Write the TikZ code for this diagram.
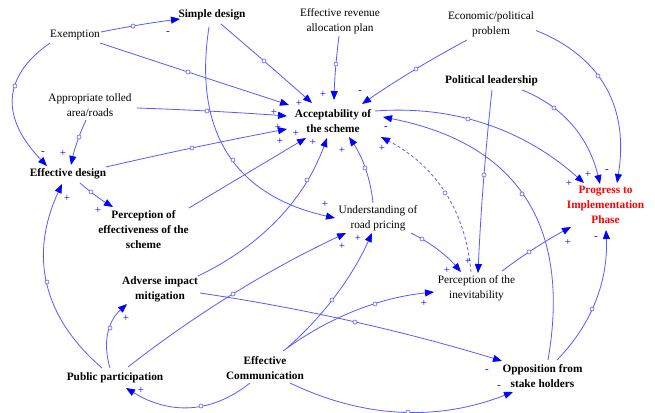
\documentclass[tikz,border=0pt]{standalone}
\usepackage{fontspec}
\setmainfont{Liberation Serif}
\usetikzlibrary{arrows.meta,calc}

\definecolor{linkblue}{RGB}{90,90,255}
\definecolor{tipblue}{RGB}{0,0,255}
\definecolor{progred}{RGB}{255,0,0}

\tikzset{
  lbl/.style={align=center, inner sep=0pt, font=\fontsize{11.3}{15}\selectfont},
  lblb/.style={lbl, font=\fontsize{11.3}{15}\selectfont\bfseries},
  link/.style={draw=linkblue, line width=0.8pt,
    -{Triangle[length=9pt,width=7pt,color=tipblue]}},
  handle/.style={draw=linkblue, fill=white, line width=0.6pt},
  sgn/.style={text=tipblue, inner sep=0pt, font=\fontsize{11}{11}\selectfont},
  delayed/.style={dash pattern=on 3pt off 2.5pt},
}

% Causal link: start = node #2 shifted by #3, end = node #5 shifted by #6,
% the curve passes through the handle point #4 (quadratic arc through 3 points).
\newcommand\cldlink[6][]{%
  \path ($(#2)+#3$) coordinate (cS) #4 coordinate (cH) ($(#5)+#6$) coordinate (cE);
  \draw[link,#1] let \p1=(cS), \p2=(cH), \p3=(cE),
      \n1={veclen(\x2-\x1,\y2-\y1)}, \n2={veclen(\x3-\x2,\y3-\y2)},
      \n3={\n1/(\n1+\n2)}, \n4={2*\n3*(1-\n3)},
      \n5={(\x2-(1-\n3)*(1-\n3)*\x1-\n3*\n3*\x3)/\n4},
      \n6={(\y2-(1-\n3)*(1-\n3)*\y1-\n3*\n3*\y3)/\n4}
    in (cS) .. controls ({(\x1+2*\n5)/3},{(\y1+2*\n6)/3})
             and ({(\x3+2*\n5)/3},{(\y3+2*\n6)/3}) .. (cE);
  \draw[handle] (cH) circle[radius=2pt];
}

\begin{document}
\begin{tikzpicture}[x=1pt,y=-1pt]
\path[fill=white, use as bounding box] (0,0) rectangle (655,412);

% variables
\node[lbl]  (exem) at (75,35)      {Exemption};
\node[lblb] (simp) at (212,15)     {Simple design};
\node[lbl]  (rev)  at (340,21.5)   {Effective revenue\\allocation plan};
\node[lbl]  (econ) at (491,24.5)   {Economic/political\\problem};
\node[lblb] (pol)  at (491.5,81)   {Political leadership};
\node[lbl]  (appr) at (90,105.5)   {Appropriate tolled\\area/roads};
\node[lblb] (acc)  at (333,121)    {Acceptability of\\the scheme};
\node[lblb] (effd) at (68,174)     {Effective design};
\node[lblb] (peff) at (143.5,230)  {Perception of\\effectiveness of the\\scheme};
\node[lblb, text=progred] (prog) at (605.5,205) {Progress to\\Implementation\\Phase};
\node[lbl]  (und)  at (378,218.5)  {Understanding of\\road pricing};
\node[lbl]  (inev) at (476.5,288)  {Perception of the\\inevitability};
\node[lblb] (adv)  at (160,289)    {Adverse impact\\mitigation};
\node[lblb] (pub)  at (115,378)    {Public participation};
\node[lblb] (comm) at (265,368)    {Effective\\Communication};
\node[lblb] (opp)  at (542.5,376.5){Opposition from\\stake holders};

% causal links
\cldlink{exem}{(26,-3)}{(133,26)}{simp}{(-32,4)}
\cldlink{exem}{(25,8)}{(188,72)}{acc}{(-44,-16)}
\cldlink{simp}{(9,9)}{(264,61)}{acc}{(-21,-18)}
\cldlink{rev}{(-1,14.5)}{(336,64)}{acc}{(1,-21)}
\cldlink{econ}{(-24,15.5)}{(416,69)}{acc}{(29,-17)}
\cldlink{appr}{(47,2.5)}{(207,111)}{acc}{(-46,-5)}
\cldlink{effd}{(38,-7)}{(192,148)}{acc}{(-46,8)}
\draw[link] ($(peff)+(45.5,-22)$) -- ($(acc)+(-27,17)$);
\cldlink{adv}{(38,-13)}{(307,180)}{acc}{(-6,17)}
\cldlink{und}{(-5,-15.5)}{(365,168)}{acc}{(16,16)}
\cldlink[delayed]{inev}{(-5.5,-16)}{(445,193)}{acc}{(48,16)}
\cldlink{opp}{(5.5,-16.5)}{(522,194)}{acc}{(50,-4)}
\cldlink{acc}{(42,-10)}{(468,119)}{prog}{(-21.5,-22)}
\cldlink{pol}{(30.5,9)}{(554,108)}{prog}{(-5.5,-21)}
\cldlink{econ}{(45,6)}{(598,76)}{prog}{(11.5,-22)}
\cldlink{pol}{(0.5,9)}{(484,175)}{inev}{(1.5,-15)}
\cldlink{und}{(33,14.5)}{(422,239)}{inev}{(-15.5,-16)}
\cldlink{inev}{(25.5,-17)}{(529,252)}{prog}{(-34.5,22)}
\cldlink{comm}{(18,-17)}{(375,304)}{inev}{(-42.5,4)}
\cldlink{comm}{(22,-20)}{(332,300)}{und}{(-6,14.5)}
\cldlink{pub}{(13,-11)}{(233,294)}{und}{(-32,14.5)}
\cldlink{adv}{(40,4)}{(355,322)}{opp}{(-40.5,-15.5)}
\cldlink{comm}{(25,15)}{(408,412)}{opp}{(-29.5,15.5)}
\cldlink{comm}{(-15,15)}{(201,406)}{pub}{(11,10)}
\cldlink{pub}{(-5,-10)}{(110,328)}{adv}{(-33,15)}
\cldlink{pub}{(-13,-10)}{(47,282)}{effd}{(-6,10)}
\cldlink{exem}{(-25,8)}{(15,86)}{effd}{(-21,-8)}
\cldlink{appr}{(-4,14.5)}{(79,137)}{effd}{(3,-9)}
\cldlink{effd}{(12,9)}{(91,192)}{peff}{(-30.5,-23)}
\cldlink{simp}{(-3,12)}{(233,160)}{und}{(-43,-0.5)}
\cldlink{opp}{(14.5,-16.5)}{(592,309)}{prog}{(0.5,25)}

% link polarities
\node[sgn] (p1)  at (168,33)  {-};
\node[sgn] (p2)  at (323,94)  {+};
\node[sgn] (p3)  at (299,103) {+};
\node[sgn] (p4)  at (274,112) {+};
\node[sgn] (p5)  at (278,127) {+};
\node[sgn] (p6)  at (296,133) {+};
\node[sgn] (p7)  at (280,141) {+};
\node[sgn] (p8)  at (313,142) {+};
\node[sgn] (p9)  at (342,150) {+};
\node[sgn] (p10) at (382,148) {+};
\node[sgn] (p11) at (360,92)  {-};
\node[sgn] (p12) at (386,128) {-};
\node[sgn] (p13) at (43,153)  {-};
\node[sgn] (p14) at (63,153)  {+};
\node[sgn] (p15) at (67,198)  {+};
\node[sgn] (p16) at (98,210)  {+};
\node[sgn] (p17) at (569,183) {+};
\node[sgn] (p18) at (588,174) {+};
\node[sgn] (p19) at (607,171) {-};
\node[sgn] (p20) at (568,242) {+};
\node[sgn] (p21) at (596,238) {-};
\node[sgn] (p22) at (325,204) {+};
\node[sgn] (p23) at (342,246) {+};
\node[sgn] (p24) at (358,238) {+};
\node[sgn] (p25) at (468,261) {+};
\node[sgn] (p26) at (447,270) {+};
\node[sgn] (p27) at (424,303) {+};
\node[sgn] (p28) at (126,318) {+};
\node[sgn] (p29) at (141,390) {+};
\node[sgn] (p30) at (487,371) {-};
\node[sgn] (p31) at (499,387) {-};
\end{tikzpicture}
\end{document}
